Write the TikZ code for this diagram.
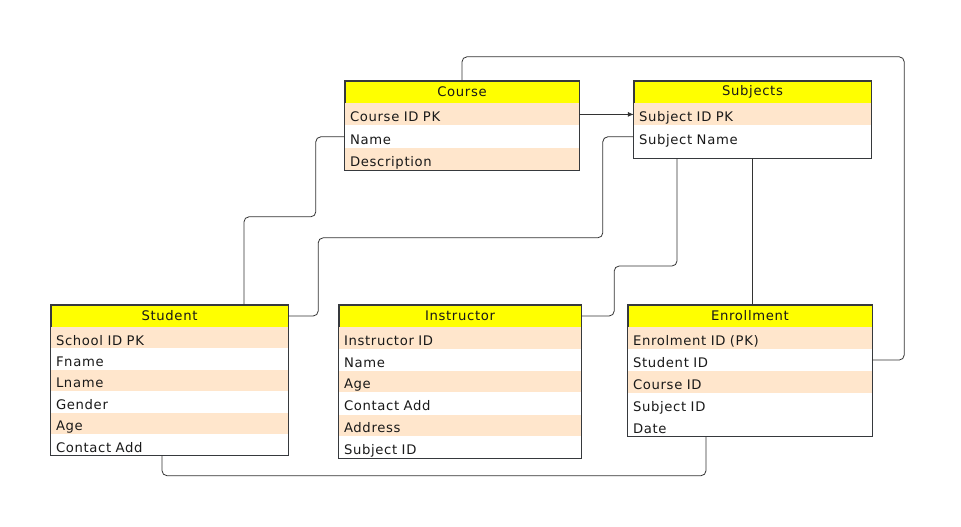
\documentclass[tikz,border=0pt]{standalone}
\usepackage{fontspec}
\setmainfont{DejaVu Sans}[LetterSpace=5]
\usepackage{tikz}
\usetikzlibrary{positioning}
\usetikzlibrary{arrows.meta}
\definecolor{hdryellow}{HTML}{FFFF00}
\definecolor{peach}{HTML}{FFE6CC}
\definecolor{edgegray}{HTML}{36393D}

\begin{document}
\begin{tikzpicture}[x=1pt,y=-1pt,node distance=0pt,font=\fontsize{13.2}{15}\selectfont,
   tblhead/.style={draw=edgegray,fill=hdryellow,minimum width=#1,minimum height=22pt,inner sep=0pt,text=black!90},
   field/.style 2 args={fill=#1,text width=#2,inner xsep=5pt,inner ysep=0pt,minimum height=\rowh,
      text height=14.5pt,text depth=0pt,align=left,text=black!90},
   tblframe/.style={draw=edgegray,line width=0.8pt},
   link/.style={draw=black!80,line width=0.8pt,rounded corners=5pt}]
   \useasboundingbox (0,0) rectangle (961,527);
   \def\rowh{22pt}
   % Course
   \node[tblhead=234pt] (course) at (462,92) {Course};
   \node[field={peach}{224pt}] (c_id) [below=of course] {Course ID PK};
   \node[field={white}{224pt}] (c_name) [below=of c_id] {Name};
   \node[field={peach}{224pt}] (c_desc) [below=of c_name] {Description};
   \draw[tblframe] (course.north west) rectangle (c_desc.south east);
   % Subjects
   \node[tblhead=237pt] (subj) at (752.5,92) {Subjects};
   \node[field={peach}{227pt}] (s_id) [below=of subj] {Subject ID PK};
   \node[field={white}{227pt}] (s_name) [below=of s_id] {Subject Name};
   \coordinate (s_base) at ([yshift=-10pt]s_name.south);
   \draw[tblframe] (subj.north west) rectangle ([yshift=-10pt]s_name.south east);
   % Student
   \def\rowh{21pt}
   \node[tblhead=237pt] (student) at (169.5,316) {Student};
   \node[field={peach}{227pt}] (st_id) [below=of student] {School ID PK};
   \node[field={white}{227pt}] (st_fname) [below=of st_id] {Fname};
   \node[field={peach}{227pt}] (st_lname) [below=of st_fname] {Lname};
   \node[field={white}{227pt}] (st_gender) [below=of st_lname] {Gender};
   \node[field={peach}{227pt}] (st_age) [below=of st_gender] {Age};
   \node[field={white}{227pt}] (st_contact) [below=of st_age] {Contact Add};
   \draw[tblframe] (student.north west) rectangle (st_contact.south east);
   % Instructor
   \def\rowh{21.4pt}
   \node[tblhead=242pt] (instr) at (460,316) {Instructor};
   \node[field={peach}{232pt}] (i_id) [below=of instr] {Instructor ID};
   \node[field={white}{232pt}] (i_name) [below=of i_id] {Name};
   \node[field={peach}{232pt}] (i_age) [below=of i_name] {Age};
   \node[field={white}{232pt}] (i_contact) [below=of i_age] {Contact Add};
   \node[field={peach}{232pt}] (i_addr) [below=of i_contact] {Address};
   \node[field={white}{232pt}] (i_subj) [below=of i_addr] {Subject ID};
   \draw[tblframe] (instr.north west) rectangle (i_subj.south east);
   % Enrollment
   \def\rowh{21.5pt}
   \node[tblhead=244pt] (enroll) at (750,316) {Enrollment};
   \node[field={peach}{234pt}] (e_id) [below=of enroll] {Enrolment ID (PK)};
   \node[field={white}{234pt}] (e_stud) [below=of e_id] {Student ID};
   \node[field={peach}{234pt}] (e_course) [below=of e_stud] {Course ID};
   \node[field={white}{234pt}] (e_subj) [below=of e_course] {Subject ID};
   \node[field={white}{234pt}] (e_date) [below=of e_subj] {Date};
   \draw[tblframe] (enroll.north west) rectangle (e_date.south east);
   % links
   \draw[link] (course.north) -- ++(0,-24) -| ([xshift=32pt]e_stud.east) -- (e_stud.east);
   \draw[link,-{Latex[length=6pt,width=5pt]}] (c_id.east) -- (s_id.west);
   \draw[link] (c_name.west) -- ++(-29,0) -- ++(0,80) -| ([xshift=74.5pt]student.north);
   \draw[link] (s_name.west) -- ++(-31,0) -- ++(0,101) -| ([xshift=30pt]student.east) -- (student.east);
   \draw[link] ([xshift=-75.5pt]s_base) -- ++(0,108) -| ([xshift=33pt]instr.east) -- (instr.east);
   \draw[link] (s_base) -- (s_base |- enroll.north);
   \draw[link] ([xshift=-44pt]e_date.south) -- ++(0,39) -| ([xshift=-7.5pt]st_contact.south);
\end{tikzpicture}
\end{document}
